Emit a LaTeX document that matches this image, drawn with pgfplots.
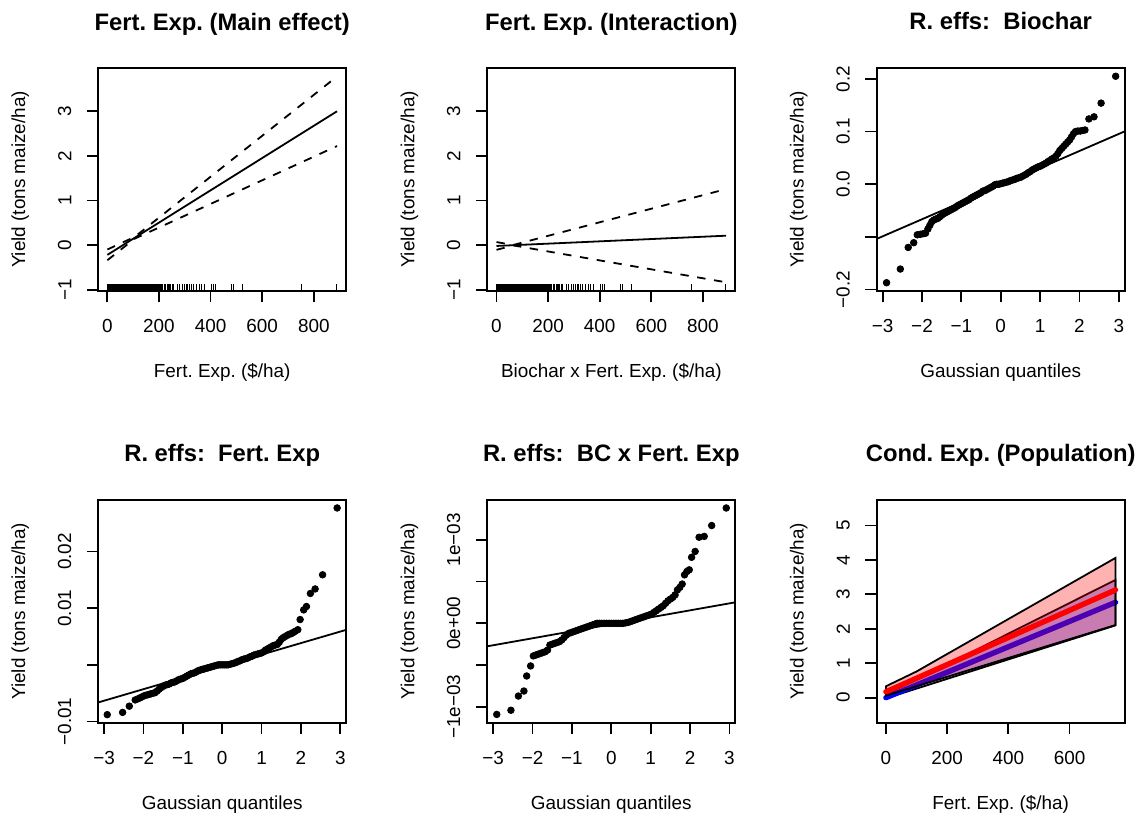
\documentclass[border=0pt]{standalone}
\usepackage{fontspec}
\setmainfont{Liberation Sans}
\usepackage{pgfplots}
\usepackage{pgfplotstable}
\pgfplotsset{compat=1.18}

\newcommand\lab{\fontsize{9.45}{11}\selectfont}
\newcommand\ttl{\fontsize{11.9}{14}\selectfont\bfseries}

% base-graphics look: box, outward ticks, labels parallel to the axes
\pgfplotsset{
  rpanel/.style={
    scale only axis, width=124pt, height=111.5pt,
    axis line style={line width=0.9pt, black},
    tick align=outside,
    major tick length=5.7pt,
    tick style={line width=0.9pt, black},
    xtick pos=left, ytick pos=left,
    minor tick num=0,
    scaled ticks=false,
    tick label style={font=\lab},
    xticklabel style={anchor=base, yshift=-15.1pt},
    yticklabel style={rotate=90, anchor=south, inner ysep=7.55pt},
    every axis title/.style={at={(0.5,1)}, anchor=base, yshift=19pt, font=\ttl},
    every axis x label/.style={at={(axis description cs:0.5,-0.3901)}, anchor=base, font=\lab},
    every axis y label/.style={at={(axis description cs:-0.2944,0.5)}, rotate=90, anchor=base, font=\lab},
    ylabel={Yield (tons maize/ha)},
  },
  rug/.style={only marks, mark=|, mark size=1.67pt, mark options={line width=0.5pt, black}},
  qq/.style={only marks, mark=*, mark size=1.65pt, mark options={draw=black, fill=black}},
  dashedci/.style={black, line width=0.9pt, dash pattern=on 4.2pt off 4.3pt},
}

% observed fertiliser expenditure ($/ha), drawn as a rug along the bottom edge
\pgfplotstableread{
x y
0 0
1 0
3 0
5 0
6 0
8 0
10 0
12 0
14 0
15 0
17 0
19 0
21 0
23 0
25 0
27 0
29 0
30 0
32 0
34 0
36 0
38 0
40 0
42 0
44 0
45 0
47 0
49 0
51 0
53 0
55 0
57 0
59 0
60 0
62 0
64 0
66 0
68 0
70 0
72 0
74 0
75 0
77 0
79 0
81 0
83 0
85 0
87 0
89 0
90 0
92 0
94 0
96 0
98 0
100 0
102 0
104 0
105 0
107 0
109 0
111 0
113 0
115 0
117 0
119 0
120 0
122 0
124 0
126 0
128 0
130 0
132 0
134 0
135 0
137 0
140 0
142 0
145 0
147 0
150 0
152 0
154 0
156 0
158 0
160 0
163 0
165 0
168 0
170 0
172 0
175 0
178 0
180 0
183 0
185 0
188 0
190 0
193 0
195 0
198 0
200 0
203 0
205 0
208 0
210 0
213 0
215 0
222 0
226 0
232 0
236 0
241 0
245 0
251 0
255 0
271 0
280 0
290 0
299 0
305 0
312 0
319 0
325 0
334 0
345 0
357 0
366 0
377 0
403 0
412 0
419 0
480 0
489 0
525 0
754 0
888 0
}\rugdata

\begin{document}
\frenchspacing
\begin{tikzpicture}
\useasboundingbox (0,0) rectangle (571.5pt,-408.5pt);

% ---------- Fert. Exp. (Main effect)
\begin{axis}[rpanel, at={(49.1pt,-145.5pt)}, anchor=south west,
  title={Fert. Exp. (Main effect)}, xlabel={Fert. Exp. (\$/ha)},
  xmin=-35.6, xmax=925.6, ymin=-1.03, ymax=3.97,
  xtick={0,200,400,600,800}, xticklabels={0,200,400,600,800},
  ytick={-1,0,1,2,3}, yticklabels={−1,0,1,2,3}]
\addplot[black, line width=0.9pt] coordinates {(0,-0.22) (890,3.0)};
\addplot[dashedci] coordinates {(0,-0.10) (106,0.184) (890,3.78)};
\addplot[dashedci] coordinates {(0,-0.34) (106,0.144) (890,2.22)};
\addplot[rug] table[x=x, y expr=-0.955] {\rugdata};
\end{axis}

% ---------- Fert. Exp. (Interaction)
\begin{axis}[rpanel, at={(243.65pt,-145.5pt)}, anchor=south west,
  title={Fert. Exp. (Interaction)}, xlabel={Biochar x Fert. Exp. (\$/ha)},
  xmin=-35.6, xmax=925.6, ymin=-1.03, ymax=3.97,
  xtick={0,200,400,600,800}, xticklabels={0,200,400,600,800},
  ytick={-1,0,1,2,3}, yticklabels={−1,0,1,2,3}]
\addplot[black, line width=0.9pt] coordinates {(0,-0.02) (890,0.21)};
\addplot[dashedci] coordinates {(0,0.067) (65,0.002) (890,1.255)};
\addplot[dashedci] coordinates {(0,-0.107) (65,-0.008) (890,-0.835)};
\addplot[rug] table[x=x, y expr=-0.955] {\rugdata};
\end{axis}

% ---------- R. effs: Biochar
\begin{axis}[rpanel, at={(438.35pt,-145.5pt)}, anchor=south west,
  title={R. effs:\ \ Biochar}, xlabel={Gaussian quantiles},
  xmin=-3.15, xmax=3.15, ymin=-0.2027, ymax=0.2207,
  xtick={-3,-2,-1,0,1,2,3}, xticklabels={−3,−2,−1,0,1,2,3},
  ytick={-0.2,-0.1,0,0.1,0.2}, yticklabels={−0.2,,0.0,0.1,0.2}]
\addplot[black, line width=0.9pt] coordinates {(-3.2,-0.1054) (3.2,0.1020)};
\addplot[qq] coordinates {
(-2.90,-0.187) (-2.55,-0.161) (-2.35,-0.120) (-2.21,-0.111) (-2.12,-0.096)
(-2.04,-0.095) (-1.97,-0.094) (-1.91,-0.093) (-1.85,-0.085) (-1.80,-0.078)
(-1.75,-0.071) (-1.70,-0.068) (-1.65,-0.066) (-1.60,-0.065) (-1.55,-0.062)
(-1.50,-0.059) (-1.45,-0.056) (-1.40,-0.054) (-1.35,-0.052) (-1.30,-0.050)
(-1.25,-0.048) (-1.20,-0.046) (-1.15,-0.044) (-1.10,-0.041) (-1.05,-0.039)
(-1.00,-0.037) (-0.95,-0.035) (-0.90,-0.033) (-0.85,-0.031) (-0.80,-0.029)
(-0.75,-0.026) (-0.70,-0.024) (-0.65,-0.022) (-0.60,-0.020) (-0.55,-0.018)
(-0.50,-0.016) (-0.45,-0.013) (-0.40,-0.012) (-0.35,-0.010) (-0.30,-0.008)
(-0.25,-0.006) (-0.20,-0.004) (-0.15,-0.001) (-0.10,0.000) (-0.05,0.000)
(0.00,0.001) (0.05,0.002) (0.10,0.003) (0.15,0.004) (0.20,0.005)
(0.25,0.007) (0.30,0.008) (0.35,0.009) (0.40,0.011) (0.45,0.012)
(0.50,0.013) (0.55,0.015) (0.60,0.017) (0.65,0.019) (0.70,0.022)
(0.75,0.024) (0.80,0.027) (0.85,0.029) (0.90,0.031) (0.95,0.033)
(1.00,0.034) (1.05,0.036) (1.10,0.038) (1.15,0.040) (1.20,0.043)
(1.25,0.045) (1.30,0.048) (1.35,0.050) (1.40,0.053) (1.45,0.058)
(1.50,0.064) (1.55,0.068) (1.60,0.072) (1.65,0.076) (1.70,0.080)
(1.75,0.084) (1.80,0.090) (1.85,0.096) (1.90,0.100) (1.96,0.101)
(2.02,0.101) (2.08,0.102) (2.14,0.103) (2.24,0.124) (2.37,0.128)
(2.55,0.154) (2.92,0.205)};
\end{axis}

% ---------- R. effs: Fert. Exp
\begin{axis}[rpanel, at={(49.1pt,-361.35pt)}, anchor=south west,
  title={R. effs:\ \ Fert. Exp}, xlabel={Gaussian quantiles},
  xmin=-3.15, xmax=3.15, ymin=-0.01022, ymax=0.02916,
  xtick={-3,-2,-1,0,1,2,3}, xticklabels={−3,−2,−1,0,1,2,3},
  ytick={-0.01,0,0.01,0.02}, yticklabels={−0.01,,0.01,0.02}]
\addplot[black, line width=0.9pt] coordinates {(-3.2,-0.00674) (3.2,0.00628)};
\addplot[qq] coordinates {
(-2.92,-0.0088) (-2.53,-0.0084) (-2.36,-0.0073) (-2.21,-0.0062) (-2.14,-0.0060)
(-2.08,-0.0058) (-2.02,-0.0056) (-1.96,-0.0054) (-1.90,-0.0053) (-1.85,-0.0052)
(-1.80,-0.0051) (-1.75,-0.0050) (-1.70,-0.0049) (-1.65,-0.0046) (-1.60,-0.0043)
(-1.55,-0.0040) (-1.50,-0.0038) (-1.45,-0.0036) (-1.40,-0.0035) (-1.35,-0.0034)
(-1.30,-0.0032) (-1.25,-0.0031) (-1.20,-0.0030) (-1.15,-0.0028) (-1.10,-0.0026)
(-1.05,-0.0025) (-1.00,-0.0024) (-0.95,-0.0022) (-0.90,-0.0020) (-0.85,-0.0018)
(-0.80,-0.0016) (-0.75,-0.0015) (-0.70,-0.0014) (-0.65,-0.0012) (-0.60,-0.0010)
(-0.55,-0.0009) (-0.50,-0.0008) (-0.45,-0.0007) (-0.40,-0.0006) (-0.35,-0.0005)
(-0.30,-0.0004) (-0.25,-0.0003) (-0.20,-0.0002) (-0.15,-0.0001) (-0.10,0.0000)
(-0.05,0.0000) (0.00,0.0000) (0.05,0.0000) (0.10,0.0000) (0.15,0.0000)
(0.20,0.0001) (0.25,0.0002) (0.30,0.0003) (0.35,0.0004) (0.40,0.0006)
(0.45,0.0007) (0.50,0.0009) (0.55,0.0010) (0.60,0.0011) (0.65,0.0012)
(0.70,0.0014) (0.75,0.0015) (0.80,0.0017) (0.85,0.0018) (0.90,0.0019)
(0.95,0.0020) (1.00,0.0021) (1.05,0.0023) (1.10,0.0026) (1.15,0.0028)
(1.20,0.0030) (1.25,0.0032) (1.30,0.0034) (1.35,0.0035) (1.40,0.0036)
(1.45,0.0040) (1.50,0.0045) (1.55,0.0048) (1.60,0.0050) (1.65,0.0052)
(1.70,0.0054) (1.75,0.0055) (1.80,0.0057) (1.85,0.0059) (1.92,0.0062)
(1.98,0.0080) (2.07,0.0097) (2.14,0.0103) (2.24,0.0126) (2.36,0.0134)
(2.55,0.0159) (2.92,0.0277)};
\end{axis}

% ---------- R. effs: BC x Fert. Exp
\begin{axis}[rpanel, at={(243.65pt,-361.35pt)}, anchor=south west,
  title={R. effs:\ \ BC x Fert. Exp}, xlabel={Gaussian quantiles},
  xmin=-3.15, xmax=3.15, ymin=-0.001189, ymax=0.001479,
  xtick={-3,-2,-1,0,1,2,3}, xticklabels={−3,−2,−1,0,1,2,3},
  ytick={-0.001,-0.0005,0,0.0005,0.001}, yticklabels={−1e−03,,0e+00,,1e−03}]
\addplot[black, line width=0.9pt] coordinates {(-3.2,-0.0002789) (3.2,0.0002555)};
\addplot[qq] coordinates {
(-2.91,-0.00109) (-2.55,-0.00104) (-2.36,-0.00087) (-2.22,-0.00081) (-2.15,-0.00063)
(-2.05,-0.00051) (-1.98,-0.00039) (-1.92,-0.00038) (-1.86,-0.00037) (-1.80,-0.00036)
(-1.74,-0.00035) (-1.68,-0.00034) (-1.62,-0.00032) (-1.56,-0.00026) (-1.50,-0.00025)
(-1.44,-0.00024) (-1.38,-0.00023) (-1.32,-0.00022) (-1.26,-0.00020) (-1.20,-0.00017)
(-1.14,-0.00014) (-1.08,-0.00012) (-1.02,-0.00011) (-0.96,-0.00010) (-0.90,-0.00009)
(-0.84,-0.00008) (-0.78,-0.00007) (-0.72,-0.00006) (-0.66,-0.00005) (-0.60,-0.00004)
(-0.54,-0.00003) (-0.48,-0.00002) (-0.42,-0.00001) (-0.36,0.0) (-0.30,0.0)
(-0.24,0.0) (-0.18,0.0) (-0.12,0.0) (-0.06,0.0) (0.00,0.0) (0.06,0.0) (0.12,0.0)
(0.18,0.0) (0.24,0.0) (0.30,0.0) (0.36,0.000005) (0.42,0.00001) (0.48,0.00002)
(0.54,0.00003) (0.60,0.00004) (0.66,0.00005) (0.72,0.00006) (0.78,0.00007)
(0.84,0.00008) (0.90,0.00009) (0.96,0.00010) (1.02,0.00011) (1.08,0.00013)
(1.14,0.00015) (1.20,0.00017) (1.26,0.00019) (1.32,0.00021) (1.38,0.00024)
(1.44,0.00027) (1.50,0.00029) (1.56,0.00031) (1.62,0.00034) (1.68,0.00040)
(1.74,0.00043) (1.80,0.00047) (1.86,0.00058) (1.92,0.00062) (1.98,0.00064)
(2.04,0.00079) (2.13,0.00086) (2.23,0.00103) (2.36,0.00104) (2.55,0.00117)
(2.92,0.00138)};
\end{axis}

% ---------- Cond. Exp. (Population)
\begin{axis}[rpanel, at={(438.35pt,-361.35pt)}, anchor=south west,
  title={Cond. Exp. (Population)}, xlabel={Fert. Exp. (\$/ha)},
  xmin=-30, xmax=780, ymin=-0.727, ymax=5.75,
  xtick={0,200,400,600}, xticklabels={0,200,400,600},
  ytick={0,1,2,3,4,5}, yticklabels={0,1,2,3,4,5}]
\addplot[draw=black, line width=0.9pt, fill=blue, fill opacity=0.3]
  coordinates {(0,0.10) (100,0.52) (750,3.42) (750,2.10) (100,0.263) (0,-0.02)} -- cycle;
\addplot[blue, line width=2.7pt, line cap=round] coordinates {(0,0.0) (750,2.77)};
\addplot[draw=black, line width=0.9pt, fill=red, fill opacity=0.3]
  coordinates {(0,0.33) (100,0.76) (750,4.06) (750,2.11) (100,0.333) (0,0.06)} -- cycle;
\addplot[red, line width=2.7pt, line cap=round] coordinates {(0,0.17) (750,3.13)};
\end{axis}
\end{tikzpicture}
\end{document}
